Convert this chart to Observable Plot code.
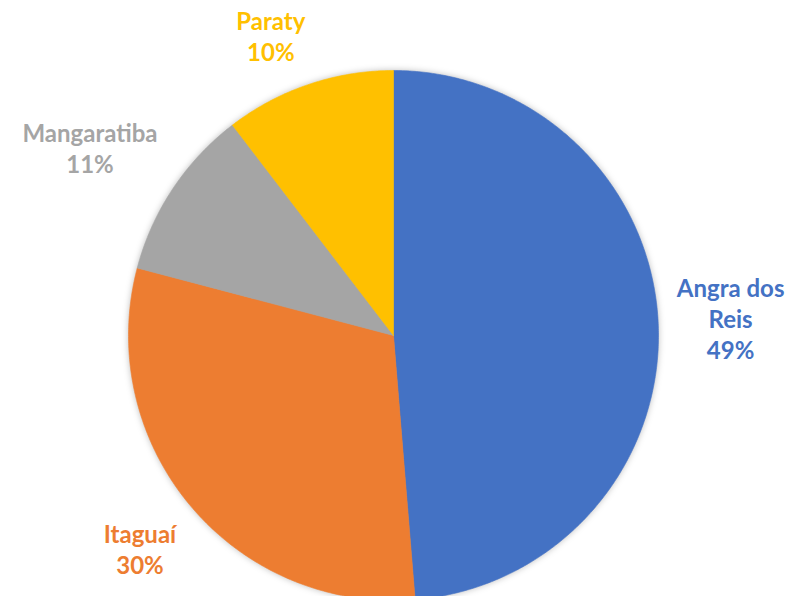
<!DOCTYPE html>
<html>
<head>
<meta charset="utf-8">
<script src="https://cdn.jsdelivr.net/npm/d3@7"></script>
<script src="https://cdn.jsdelivr.net/npm/@observablehq/plot@0.6"></script>
<style>
  html, body { margin: 0; padding: 0; background: #ffffff; }
  #chart svg { display: block; }
  .pie { filter: drop-shadow(0px 0px 3px rgba(0,0,0,0.25)); }
</style>
</head>
<body>
<div id="chart"></div>
<script>
// ---- data ----
const names = ["Angra dos Reis", "Itaguaí", "Mangaratiba", "Paraty"];
const shares = [48.7, 30.4, 10.5, 10.4];
const labelNames = ["Angra dos\nReis", "Itaguaí", "Mangaratiba", "Paraty"];
const colors = ["#4472C4", "#ED7D31", "#A5A5A5", "#FFC000"];

// ---- layout ----
const W = 790, H = 596;
const R = 265;             // pie radius in px
const cx = 393, cy = 335;  // pie centre in px
const fontFamily = "Lato, 'Open Sans', sans-serif";
const fontSize = 24;
const lineH = 31;

const total = d3.sum(shares);
let acc = 0;
const slices = names.map((name, i) => {
  const a0 = acc / total * 2 * Math.PI;
  acc += shares[i];
  const a1 = acc / total * 2 * Math.PI;
  return {name, share: shares[i], a0, a1, label: labelNames[i]};
});

// polygon points for each slice (data units: radius = 1, y up)
const piePts = [];
for (const s of slices) {
  piePts.push({name: s.name, x: 0, y: 0});
  const n = Math.max(2, Math.ceil((s.a1 - s.a0) / (Math.PI / 360)));
  for (let k = 0; k <= n; k++) {
    const a = s.a0 + (s.a1 - s.a0) * k / n;
    piePts.push({name: s.name, x: Math.sin(a), y: Math.cos(a)});
  }
  piePts.push({name: s.name, x: 0, y: 0});
}

// label positions: "outside end" — the box corner nearest the pie sits on a
// circle slightly beyond the rim, along the slice's mid angle
const ctx = document.createElement("canvas").getContext("2d");
ctx.font = `bold ${fontSize}px ${fontFamily}`;
const r0 = 1.07 * R;
const k = 0.35;
const labels = slices.map(s => {
  const text = s.label + "\n" + Math.round(s.share) + "%";
  const lines = text.split("\n");
  const hw = d3.max(lines, l => ctx.measureText(l).width) / 2;
  const hh = lines.length * lineH / 2;
  const m = (s.a0 + s.a1) / 2;
  const ux = Math.sin(m), uy = Math.cos(m);
  const px = ux * r0 + Math.sign(ux) * hw * Math.min(1, Math.abs(ux) / k);
  const py = uy * r0 + Math.sign(uy) * hh * Math.min(1, Math.abs(uy) / k);
  return {name: s.name, text, x: px / R, y: py / R};
});

const marginLeft = cx - R, marginRight = W - (cx + R), marginTop = cy - R;
const yMin = -(H - cy) / R;

const chart = Plot.plot({
  width: W,
  height: H,
  marginLeft, marginRight, marginTop, marginBottom: 0,
  x: {domain: [-1, 1], axis: null},
  y: {domain: [yMin, 1], axis: null},
  color: {domain: names, range: colors},
  style: {background: "#ffffff", overflow: "visible"},
  marks: [
    Plot.line(piePts, {x: "x", y: "y", z: "name", fill: "name", stroke: "name", strokeWidth: 0.6, curve: "linear", className: "pie"}),
    Plot.text(labels, {
      x: "x", y: "y", text: "text", fill: "name",
      fontSize, fontWeight: "bold", fontFamily,
      lineHeight: lineH / fontSize, textAnchor: "middle", lineAnchor: "middle"
    })
  ]
});
document.getElementById("chart").appendChild(chart);
</script>
</body>
</html>
